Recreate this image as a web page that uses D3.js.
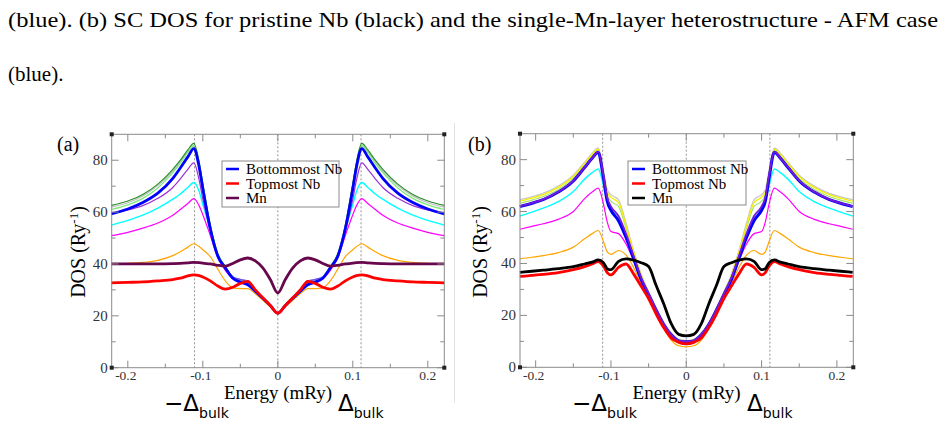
<!DOCTYPE html>
<html>
<head>
    <meta charset="utf-8">
    <style>
        body { margin: 0; background: #fff; }
        svg { display: block; }
    </style>
    <title>SC DOS</title>
</head>
<body>
    <svg width="942" height="422"></svg>

<script src="https://cdn.jsdelivr.net/npm/d3@7"></script>
<script>
    // ---- panel (a) data: energy (mRy) and DOS (1/Ry) ----
    let eA = [-0.222,-0.2,-0.18,-0.16,-0.14,-0.13,-0.12,-0.112,-0.105,-0.1,-0.09,-0.08,-0.07,-0.06,-0.05,-0.04,-0.03,-0.02,-0.01,0,
              0.01,0.02,0.03,0.04,0.05,0.06,0.07,0.08,0.09,0.1,0.105,0.112,0.12,0.13,0.14,0.16,0.18,0.2,0.222]
    let aGrey = [61.9,63.6,66.2,70.2,75.8,79.5,83.2,85.3,79.2,70.8,54.8,43.8,38.8,35,33.6,32.6,29.9,27,24,21,24,27,29.9,32.6,33.6,35,38.8,43.8,54.8,70.8,79.2,85.3,83.2,79.5,75.8,70.2,66.2,63.6,61.9]
    let aLightGreen = [61,62.8,65.3,69.3,75.2,78.8,83,85.7,79,70.5,54.8,43.8,38.8,35,33.3,32.3,29.8,27,24,21,24,27,29.8,32.3,33.3,35,38.8,43.8,54.8,70.5,79,85.7,83,78.8,75.2,69.3,65.3,62.8,61]
    let aDarkGreen = [62.6,64.3,66.8,70.8,76.5,80,84,86.5,79.5,71,55,44,39,35,33.3,32.3,29.8,27,24,21,24,27,29.8,32.3,33.3,35,39,44,55,71,79.5,86.5,84,80,76.5,70.8,66.8,64.3,62.6]
    let aOrange = [40,40.2,40.6,41.4,43.2,44.7,46.5,47.8,46.7,45.5,42.8,38,33.5,30.8,30.5,30.5,28.5,26,23.5,21,23.5,26,28.5,30.5,30.5,30.8,33.5,38,42.8,45.5,46.7,47.8,46.5,44.7,43.2,41.4,40.6,40.2,40]
    let aMagenta = [50.9,52.2,53.8,55.8,58.8,61,63.3,65.2,62.5,59,51,42.5,37.5,34.5,34,33.5,30,27,24,21,24,27,30,33.5,34,34.5,37.5,42.5,51,59,62.5,65.2,63.3,61,58.8,55.8,53.8,52.2,50.9]
    let aCyan = [55,56.8,58.8,61.5,65,67,69.5,71.4,68,63,53,43,38.5,35,34,33.3,30,27,24,21,24,27,30,33.3,34,35,38.5,43,53,63,68,71.4,69.5,67,65,61.5,58.8,56.8,55]
    let aViolet = [59.6,60.8,62.5,65.3,69.5,72.8,76.5,79,72.5,65,53,43,38.5,35,34,33,30,27,24,21,24,27,30,33,34,35,38.5,43,53,65,72.5,79,76.5,72.8,69.5,65.3,62.5,60.8,59.6]
    let aBottom = [59.3,61.2,63.7,67.3,73,77,81.3,84.5,77.5,69,53.5,43,38.5,34.5,33,32,29.5,26.8,24,21,24,26.8,29.5,32,33,34.5,38.5,43,53.5,69,77.5,84.5,81.3,77,73,67.3,63.7,61.2,59.3]
    let aMn = [40,40,40,40,40.1,40.2,40.4,40.6,40.5,40.3,40,39.5,39.2,40.2,41.6,42.3,41.2,38.5,34,28.8,34,38.5,41.2,42.3,41.6,40.2,39.2,39.5,40,40.3,40.5,40.6,40.4,40.2,40.1,40,40,40,40]
    let aTop = [32.7,32.9,33.1,33.5,34,34.5,35.4,35.8,35.5,35,33.5,31.5,30.3,31,32.5,33.3,30,27,24,21,24,27,30,33.3,32.5,31,30.3,31.5,33.5,35,35.5,35.8,35.4,34.5,34,33.5,33.1,32.9,32.7]

    // ---- panel (b) data ----
    let eB = [-0.221,-0.205,-0.19,-0.17,-0.15,-0.135,-0.125,-0.117,-0.11,-0.105,-0.1,-0.09,-0.08,-0.07,-0.06,-0.05,-0.04,-0.03,-0.02,-0.01,0,
              0.01,0.02,0.03,0.04,0.05,0.06,0.07,0.08,0.09,0.1,0.105,0.11,0.117,0.125,0.135,0.15,0.17,0.19,0.205,0.221]
    let bOrange = [41.8,42.4,43,44.2,46.3,49.5,51.5,52.7,48.5,44.5,43.5,45,43.2,38.5,32.3,26.5,20.5,15,10.5,8.3,7.9,8.3,10.5,15,20.5,26.5,32.3,38.5,43.2,45,43.5,44.5,48.5,52.7,51.5,49.5,46.3,44.2,43,42.4,41.8]
    let bMagenta = [53.2,54.3,55.3,57,60,65,67.5,69,63,56,52.3,51.5,47.5,41,33,27,21,15.8,12,9.8,9.4,9.8,12,15.8,21,27,33,41,47.5,51.5,52.3,56,63,69,67.5,65,60,57,55.3,54.3,53.2]
    let bCyan = [58.3,59.8,61.3,63.8,67.7,72.5,75,76.4,70,64,61.5,58,50.5,41.5,33.5,27.5,21.5,16,12.2,10,9.6,10,12.2,16,21.5,27.5,33.5,41.5,50.5,58,61.5,64,70,76.4,75,72.5,67.7,63.8,61.3,59.8,58.3]
    let bGrey = [64.6,65.7,67,69.8,74,79,82.5,84.5,76,68.5,66.5,64.5,55.5,45,36,29,22.8,17.2,13.2,10.8,10.4,10.8,13.2,17.2,22.8,29,36,45,55.5,64.5,66.5,68.5,76,84.5,82.5,79,74,69.8,67,65.7,64.6]
    let bYellow = [64,65.2,66.5,69.3,73.5,78.5,82,84,75,67.5,65.5,63.5,54.5,44.5,35.5,28.8,22.5,17,13,10.6,10.2,10.6,13,17,22.5,28.8,35.5,44.5,54.5,63.5,65.5,67.5,75,84,82,78.5,73.5,69.3,66.5,65.2,64]
    let bLightGreen = [63.2,64.4,65.8,68.5,72.8,77.8,81.3,83.6,74.5,66.5,64,62,53.5,44,35,28.6,22.4,16.8,12.8,10.4,10,10.4,12.8,16.8,22.4,28.6,35,44,53.5,62,64,66.5,74.5,83.6,81.3,77.8,72.8,68.5,65.8,64.4,63.2]
    let bBottom = [61.9,63.2,64.6,67.5,71.8,77,80.5,82.9,73,64,60.5,56.5,50,42,34,28,22,16.5,12.5,10.2,9.8,10.2,12.5,16.5,22,28,34,42,50,56.5,60.5,64,73,82.9,80.5,77,71.8,67.5,64.6,63.2,61.9]
    let bViolet = [62,63.3,64.7,67.6,71.9,77.1,80.6,83,74,65.5,62,58.3,51.5,43,34.5,28.5,22.3,16.7,12.6,10.3,9.9,10.3,12.6,16.7,22.3,28.5,34.5,43,51.5,58.3,62,65.5,74,83,80.6,77.1,71.9,67.6,64.7,63.3,62]
    let bTop = [35,35.4,35.8,36.5,37.6,38.8,39.8,40.7,39,36.5,35.6,38.5,39.8,36,31.3,26.5,20.5,15.3,11.3,9.6,9,9.6,11.3,15.3,20.5,26.5,31.3,36,39.8,38.5,35.6,36.5,39,40.7,39.8,38.8,37.6,36.5,35.8,35.4,35]
    let bMn = [36.6,37,37.4,38,38.8,39.8,40.5,41.4,40.3,38,37.6,40.8,41.8,41.3,40.3,38.8,31.5,24.5,16.8,12.7,12.1,12.7,16.8,24.5,31.5,38.8,40.3,41.3,41.8,40.8,37.6,38,40.3,41.4,40.5,39.8,38.8,38,37.4,37,36.6]

    let xTicks = [-0.2, -0.1, 0, 0.1, 0.2]
    let xMinor = [-0.15, -0.05, 0.05, 0.15]
    let xTickLabels = ['-0.2', '-0.1', '0', '0.1', '0.2']
    let yTicks = [0, 20, 40, 60, 80]
    let yMinor = [10, 30, 50, 70]
    let gapLines = [-0.111, 0, 0.111]
    let legendNames = ['Bottommost Nb', 'Topmost Nb', 'Mn']

    let SERIF = "'Liberation Serif', 'DejaVu Serif', serif"
    let SANS = "'DejaVu Sans', sans-serif"

    let svg = d3.select('svg')

    // caption text from the paper above the figure
    svg.append('text')
        .attr('font-family', SERIF)
        .attr('x', 8).attr('y', 27)
        .attr('font-size', 21)
        .attr('textLength', 930).attr('lengthAdjust', 'spacingAndGlyphs')
        .text('(blue). (b) SC DOS for pristine Nb (black) and the single-Mn-layer heterostructure - AFM case')
    svg.append('text')
        .attr('font-family', SERIF)
        .attr('x', 8).attr('y', 81)
        .attr('font-size', 21)
        .text('(blue).')

    // faint separator between the two images
    svg.append('line')
        .attr('x1', 454.5).attr('x2', 454.5).attr('y1', 123).attr('y2', 403)
        .attr('stroke', '#e2e2e2')

    function drawPanel(p) {
        let x = d3.scaleLinear().domain(p.xDomain).range([p.left, p.right])
        let y = d3.scaleLinear().domain([0, 90]).range([p.bottom, p.top])
        let g = svg.append('g')

        // dashed markers for -Δ, 0, +Δ
        g.selectAll('.gap')
            .data(gapLines)
            .join('line')
            .attr('x1', d => x(d)).attr('x2', d => x(d))
            .attr('y1', p.top).attr('y2', p.bottom)
            .attr('stroke', '#777')
            .attr('stroke-width', 0.8)
            .attr('stroke-dasharray', '2,2')

        let line = d3.line()
            .x((d, i) => x(p.energy[i]))
            .y(d => y(d))
            .curve(d3.curveMonotoneX)

        g.selectAll('.curve')
            .data(p.series)
            .join('path')
            .attr('d', d => line(d.values))
            .attr('fill', 'none')
            .attr('stroke', d => d.color)
            .attr('stroke-width', d => d.width)
            .attr('stroke-linejoin', 'round')

        // frame
        g.append('rect')
            .attr('x', p.left).attr('y', p.top)
            .attr('width', p.right - p.left).attr('height', p.bottom - p.top)
            .attr('fill', 'none').attr('stroke', '#8a8a8a').attr('stroke-width', 1)

        // inward ticks on every side
        let tickStroke = '#8a8a8a'
        let xt = xTicks.map(v => ({ v: v, len: 7 })).concat(xMinor.map(v => ({ v: v, len: 4 })))
        g.selectAll('.xtb').data(xt).join('line')
            .attr('x1', d => x(d.v)).attr('x2', d => x(d.v))
            .attr('y1', p.bottom).attr('y2', d => p.bottom - d.len)
            .attr('stroke', tickStroke)
        g.selectAll('.xtt').data(xt).join('line')
            .attr('x1', d => x(d.v)).attr('x2', d => x(d.v))
            .attr('y1', p.top).attr('y2', d => p.top + d.len)
            .attr('stroke', tickStroke)
        let yt = yTicks.map(v => ({ v: v, len: 7 })).concat(yMinor.map(v => ({ v: v, len: 4 })))
        g.selectAll('.ytl').data(yt).join('line')
            .attr('x1', p.left).attr('x2', d => p.left + d.len)
            .attr('y1', d => y(d.v)).attr('y2', d => y(d.v))
            .attr('stroke', tickStroke)
        g.selectAll('.ytr').data(yt).join('line')
            .attr('x1', p.right).attr('x2', d => p.right - d.len)
            .attr('y1', d => y(d.v)).attr('y2', d => y(d.v))
            .attr('stroke', tickStroke)

        // small corner squares
        let corners = [[p.left, p.top], [p.right, p.top], [p.left, p.bottom], [p.right, p.bottom]]
        g.selectAll('.corner').data(corners).join('rect')
            .attr('x', d => d[0] - 2).attr('y', d => d[1] - 2)
            .attr('width', 4).attr('height', 4)
            .attr('fill', '#222')

        // tick labels
        g.selectAll('.xl').data(xTicks).join('text')
            .attr('font-family', SERIF)
            .attr('x', d => x(d) + (d < 0 ? -2 : 0))
            .attr('y', p.bottom + 12.5)
            .attr('text-anchor', 'middle')
            .attr('font-size', 13.5)
            .attr('fill', '#333')
            .text((d, i) => xTickLabels[i])
        g.selectAll('.yl').data(yTicks).join('text')
            .attr('font-family', SERIF)
            .attr('x', p.left - 4)
            .attr('y', d => y(d) + 5)
            .attr('text-anchor', 'end')
            .attr('font-size', 15)
            .attr('fill', '#333')
            .text(d => d)

        // axis titles
        g.append('text')
            .attr('font-family', SERIF)
            .attr('x', (p.left + p.right) / 2).attr('y', 399)
            .attr('text-anchor', 'middle')
            .attr('font-size', 19)
            .text('Energy (mRy)')
        let yt2 = g.append('text')
            .attr('font-family', SERIF)
            .attr('transform', `translate(${p.yTitleX},252) rotate(-90)`)
            .attr('text-anchor', 'middle')
            .attr('font-size', 20)
        yt2.append('tspan').text('DOS (Ry')
        yt2.append('tspan').attr('font-size', 13).attr('dy', -7).text('-1')
        yt2.append('tspan').attr('dy', 7).text(')')

        // panel letter
        g.append('text')
            .attr('font-family', SERIF)
            .attr('x', p.labelX).attr('y', 151)
            .attr('font-size', 20)
            .text(p.label)

        // gap labels under the axis
        p.deltaLabels.forEach(d => {
            let t = g.append('text')
                .attr('font-family', SANS)
                .attr('x', d.x).attr('y', 411)
                .attr('font-size', 23)
            t.append('tspan').text(d.text)
            t.append('tspan').attr('font-size', 14).attr('dy', 7).text('bulk')
        })

        // legend
        let lg = g.append('g').attr('transform', `translate(${p.legend[0]},${p.legend[1]})`)
        lg.append('rect')
            .attr('width', p.legend[2]).attr('height', p.legend[3])
            .attr('fill', '#fff').attr('stroke', '#8a8a8a')
        lg.selectAll('.lgl').data(p.legendColors).join('line')
            .attr('x1', 4).attr('x2', 17)
            .attr('y1', (d, i) => 8 + i * 14.5).attr('y2', (d, i) => 8 + i * 14.5)
            .attr('stroke', d => d).attr('stroke-width', 2.5)
        lg.selectAll('.lgt').data(legendNames).join('text')
            .attr('font-family', SERIF)
            .attr('x', 24).attr('y', (d, i) => 13 + i * 14.5)
            .attr('font-size', 15)
            .text(d => d)
    }

    drawPanel({
        label: '(a)', labelX: 57,
        left: 111.7, right: 444.3, top: 134.3, bottom: 367.7,
        xDomain: [-0.2215, 0.222],
        yTitleX: 85,
        energy: eA,
        series: [
            { values: aGrey, color: '#bebebe', width: 1.2 },
            { values: aLightGreen, color: '#7de87d', width: 1.2 },
            { values: aDarkGreen, color: '#2a8f2a', width: 1.2 },
            { values: aOrange, color: '#ffa500', width: 1.2 },
            { values: aMagenta, color: '#ff00ff', width: 1.2 },
            { values: aCyan, color: '#00ffff', width: 1.4 },
            { values: aViolet, color: '#9a30d8', width: 1.2 },
            { values: aBottom, color: '#0000ff', width: 2.8 },
            { values: aMn, color: '#67074d', width: 2.8 },
            { values: aTop, color: '#ff0000', width: 2.8 }
        ],
        legend: [222, 161, 117, 46],
        legendColors: ['#0000ff', '#ff0000', '#67074d'],
        deltaLabels: [{ x: 164, text: '\u2212\u0394' }, { x: 338, text: '\u0394' }]
    })

    drawPanel({
        label: '(b)', labelX: 468,
        left: 520, right: 853.3, top: 133.7, bottom: 367.3,
        xDomain: [-0.2208, 0.2218],
        yTitleX: 487,
        energy: eB,
        series: [
            { values: bOrange, color: '#ffa500', width: 1.2 },
            { values: bMagenta, color: '#ff00ff', width: 1.2 },
            { values: bCyan, color: '#00ffff', width: 1.4 },
            { values: bGrey, color: '#c8c8c8', width: 1.3 },
            { values: bLightGreen, color: '#a6e36a', width: 1.2 },
            { values: bYellow, color: '#f5f000', width: 1.3 },
            { values: bBottom, color: '#0000ff', width: 3 },
            { values: bViolet, color: '#7a1ad8', width: 1.8 },
            { values: bTop, color: '#ff0000', width: 2.8 },
            { values: bMn, color: '#000000', width: 2.8 }
        ],
        legend: [628, 161, 118, 44],
        legendColors: ['#0000ff', '#ff0000', '#000000'],
        deltaLabels: [{ x: 572, text: '\u2212\u0394' }, { x: 747, text: '\u0394' }]
    })
</script>
</body>
</html>
